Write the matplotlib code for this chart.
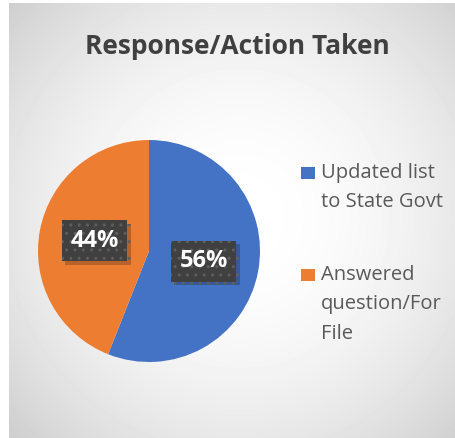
import numpy as np
import matplotlib.pyplot as plt
import matplotlib.patheffects as pe
from matplotlib.patches import Rectangle

plt.rcParams['font.family'] = ['Open Sans', 'DejaVu Sans']

# data
labels = ['Updated list\nto State Govt', 'Answered\nquestion/For\nFile']
values = [56, 44]
colors = ['#4472c4', '#ed7d31']

W, H = 456, 438
fig = plt.figure(figsize=(W / 100, H / 100), dpi=100)
fig.patch.set_facecolor('white')

# background panel with soft radial gradient
bg = fig.add_axes([9 / W, 0, 1 - 9 / W, 435 / H])
yy, xx = np.mgrid[0:435, 0:447]
d = np.sqrt(((xx - 230) / 330) ** 2 + ((yy - 215) / 330) ** 2)
shade = np.clip(1 - 0.21 * d ** 2, 0, 1)
bg.imshow(shade, cmap='gray', vmin=0, vmax=1, aspect='auto', interpolation='bilinear')
bg.set_axis_off()

# pie
ax = fig.add_axes([(149 - 111) / W, (H - 251 - 111) / H, 222 / W, 222 / H])
wedges, _, autotexts = ax.pie(values, colors=colors, startangle=90, counterclock=False,
                              radius=1, autopct='%d%%', pctdistance=0.5,
                              wedgeprops={'linewidth': 0})
for t in autotexts:
    t.set_color('white')
    t.set_fontsize(17)
    t.set_fontweight('bold')
    t.set_bbox(dict(boxstyle='square,pad=0.36', facecolor='#404040', edgecolor='#5e5e5e',
                    linewidth=0, hatch='..'))
    # soft shadow on the label box
    t.get_bbox_patch().set_path_effects([pe.SimplePatchShadow(offset=(2.5, -2.5), alpha=0.25),
                                         pe.Normal()])
ax.set_xlim(-1, 1)
ax.set_ylim(-1, 1)
ax.set_axis_off()

fig.text(237 / W, 1 - 47 / H, 'Response/Action Taken', ha='center', va='center',
         fontsize=19, fontweight='bold', color='#404040')

# legend, one line of text at a time
y_first = [173, 275]
for lab, col, y0 in zip(labels, colors, y_first):
    fig.patches.append(Rectangle((301 / W, 1 - (y0 + 6) / H), 14 / W, 12 / H,
                                 facecolor=col, transform=fig.transFigure, figure=fig))
    for i, line in enumerate(lab.split('\n')):
        fig.text(321 / W, 1 - (y0 + i * 29.5) / H, line, ha='left', va='center',
                 fontsize=14.5, color='#595959')

fig.savefig('out.png', dpi=100)
